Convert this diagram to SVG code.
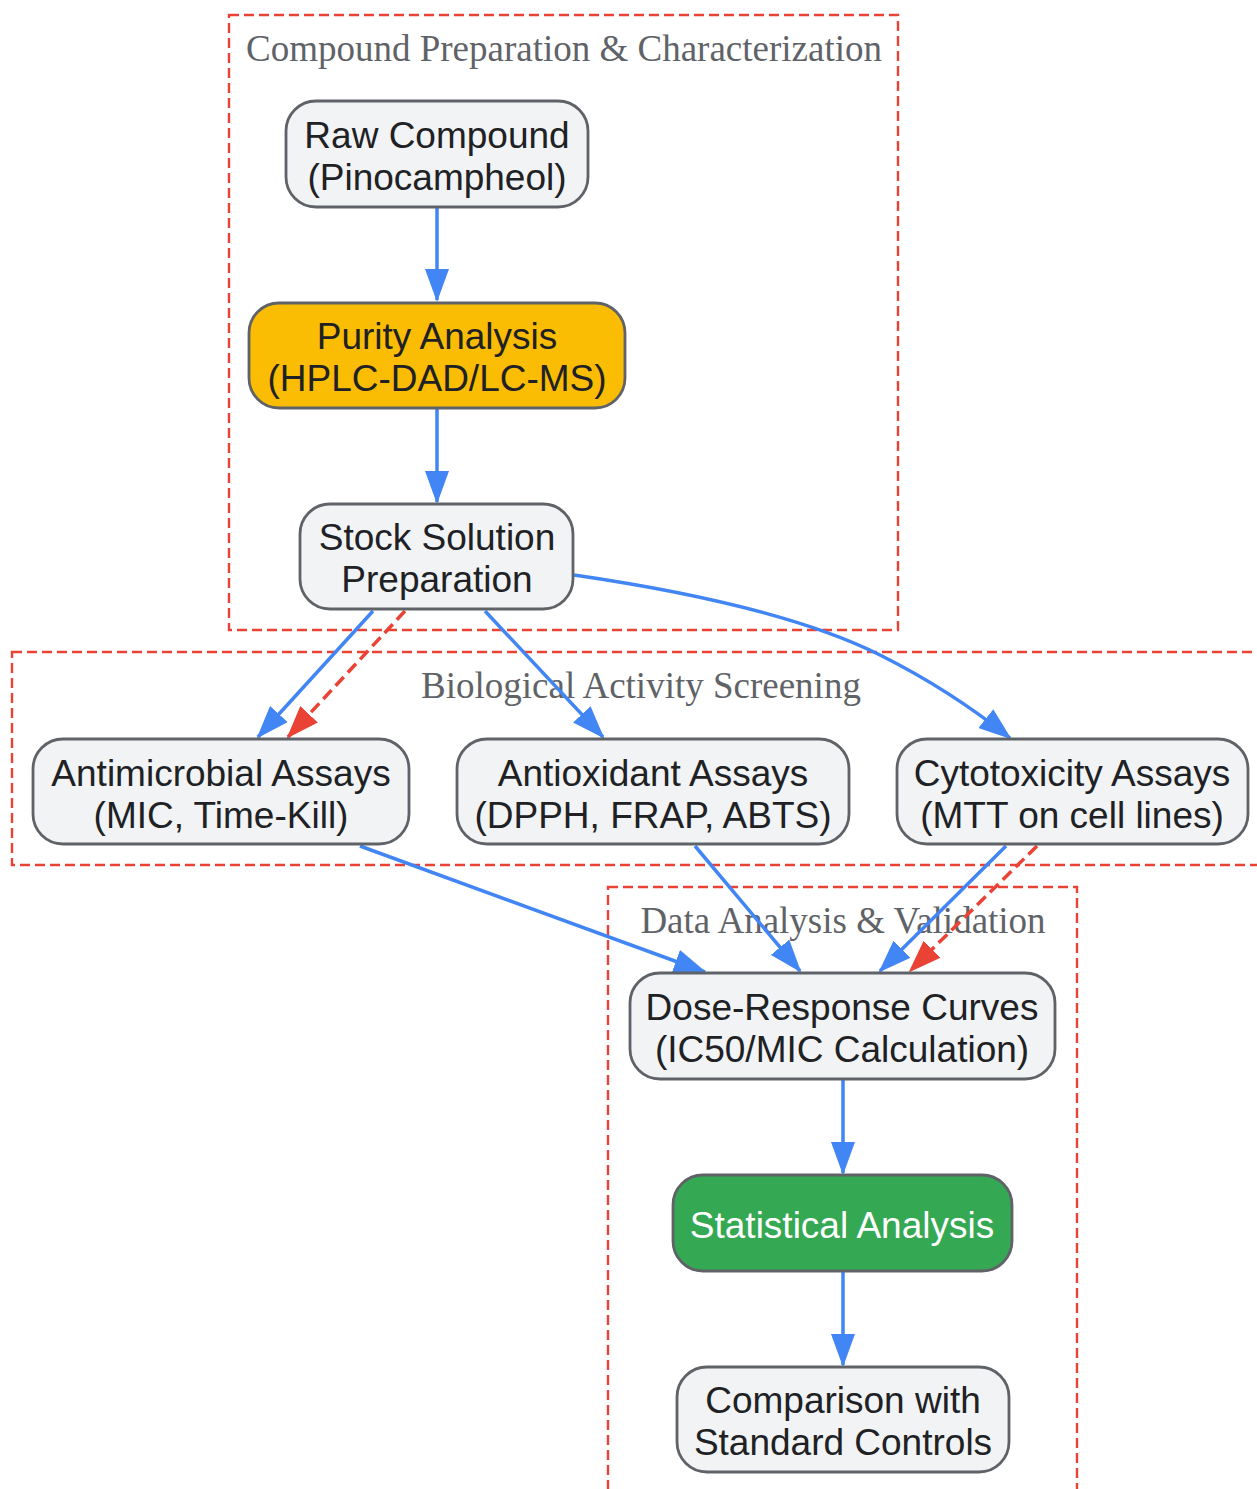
<svg xmlns="http://www.w3.org/2000/svg" width="1257" height="1489" viewBox="0 0 1257 1489">
<style>
.cl{fill:none;stroke:#ea4335;stroke-width:2.4;stroke-dasharray:10,5}
.ct{font-family:"Liberation Serif",serif;font-size:37px;fill:#5f6368;text-anchor:middle}
.n{fill:#f1f3f4;stroke:#5f6368;stroke-width:2.8}
.t{font-family:"Liberation Sans",Arial,sans-serif;font-size:37px;fill:#202124;text-anchor:middle}
.e{fill:none;stroke:#4285f4;stroke-width:3.5}
.r{fill:none;stroke:#ea4335;stroke-width:3.5;stroke-dasharray:12,6}
</style>
<defs>
<marker id="ab" viewBox="0 0 33 24" refX="31" refY="12" markerWidth="33" markerHeight="24" markerUnits="userSpaceOnUse" orient="auto"><path d="M0,0L33,12L0,24z" fill="#4285f4"/></marker>
<marker id="ar" viewBox="0 0 33 24" refX="31" refY="12" markerWidth="33" markerHeight="24" markerUnits="userSpaceOnUse" orient="auto"><path d="M0,0L33,12L0,24z" fill="#ea4335"/></marker>
</defs>
<rect width="1257" height="1489" fill="#fff"/>
<g id="clusters">
<rect class="cl" x="229" y="15" width="669" height="615"/>
<text class="ct" x="564" y="61">Compound Preparation &amp; Characterization</text>
<rect class="cl" x="12" y="652" width="1260" height="213"/>
<text class="ct" x="641" y="698">Biological Activity Screening</text>
<rect class="cl" x="608" y="887" width="469" height="620"/>
<text class="ct" x="843" y="933">Data Analysis &amp; Validation</text>
</g>
<g id="edges">
<path class="e" d="M437,208V300" marker-end="url(#ab)"/>
<path class="e" d="M437,409V502" marker-end="url(#ab)"/>
<path class="e" d="M373,611L258,737" marker-end="url(#ab)"/>
<path class="r" d="M405,611L288,737" marker-end="url(#ar)"/>
<path class="e" d="M485,611L603,737" marker-end="url(#ab)"/>
<path class="e" d="M574,575Q780,605 880,655Q950,690 1010,738" marker-end="url(#ab)"/>
<path class="e" d="M360,846L705,972" marker-end="url(#ab)"/>
<path class="e" d="M695,846L800,971" marker-end="url(#ab)"/>
<path class="e" d="M1006,846L880,971" marker-end="url(#ab)"/>
<path class="r" d="M1037,846L910,971" marker-end="url(#ar)"/>
<path class="e" d="M843,1080V1173" marker-end="url(#ab)"/>
<path class="e" d="M843,1272V1365" marker-end="url(#ab)"/>
</g>
<g id="raw"><rect class="n" x="286" y="101" width="302" height="106" rx="30"/><text class="t" x="437" y="148">Raw Compound</text><text class="t" x="437" y="190">(Pinocampheol)</text></g>
<g id="purity"><rect class="n" x="249" y="303" width="376" height="105" rx="30" style="fill:#fbbc04"/><text class="t" x="437" y="349">Purity Analysis</text><text class="t" x="437" y="391">(HPLC-DAD/LC-MS)</text></g>
<g id="stock"><rect class="n" x="300" y="504" width="273" height="105" rx="30"/><text class="t" x="437" y="550">Stock Solution</text><text class="t" x="437" y="592">Preparation</text></g>
<g id="antimicrobial"><rect class="n" x="33" y="739" width="376" height="105" rx="30"/><text class="t" x="221" y="786">Antimicrobial Assays</text><text class="t" x="221" y="828">(MIC, Time-Kill)</text></g>
<g id="antioxidant"><rect class="n" x="457" y="739" width="392" height="105" rx="30"/><text class="t" x="653" y="786">Antioxidant Assays</text><text class="t" x="653" y="828">(DPPH, FRAP, ABTS)</text></g>
<g id="cytotoxicity"><rect class="n" x="897" y="739" width="351" height="105" rx="30"/><text class="t" x="1072" y="786">Cytotoxicity Assays</text><text class="t" x="1072" y="828">(MTT on cell lines)</text></g>
<g id="dose"><rect class="n" x="630" y="973" width="425" height="106" rx="30"/><text class="t" x="842" y="1020">Dose-Response Curves</text><text class="t" x="842" y="1062">(IC50/MIC Calculation)</text></g>
<g id="stats"><rect class="n" x="673" y="1175" width="339" height="96" rx="30" style="fill:#34a853"/><text class="t" x="842" y="1238" style="fill:#fff">Statistical Analysis</text></g>
<g id="compare"><rect class="n" x="677" y="1367" width="332" height="105" rx="30"/><text class="t" x="843" y="1413">Comparison with</text><text class="t" x="843" y="1455">Standard Controls</text></g>
</svg>
